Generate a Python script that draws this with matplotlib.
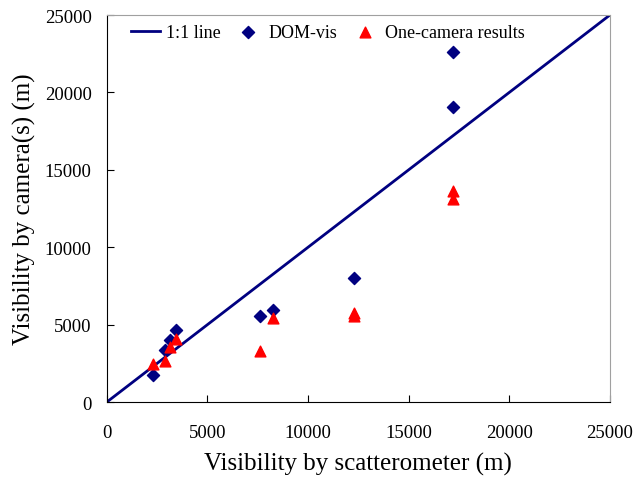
import matplotlib.pyplot as plt

# --- Data ---
line_x = [0, 25000]
line_y = [0, 25000]

dom_x = [2270, 2880, 3130, 3460, 7600, 8280, 12300, 17200, 17200]
dom_y = [1720, 3380, 4020, 4670, 5530, 5960, 8020, 22630, 19080]

cam_x = [2270, 2880, 3130, 3460, 7600, 8280, 12300, 12300, 17200, 17200]
cam_y = [2450, 2620, 3530, 4070, 3270, 5430, 5780, 5580, 13650, 13120]

x_ticks = [0, 5000, 10000, 15000, 20000, 25000]
y_ticks = [0, 5000, 10000, 15000, 20000, 25000]

plt.rcParams['font.family'] = ['Liberation Serif', 'DejaVu Serif']

fig = plt.figure(figsize=(6.36, 4.85), dpi=100)
ax = fig.add_axes([0.168, 0.169, 0.791, 0.798])

ax.plot(line_x, line_y, color='#000080', lw=2, label='1:1 line', zorder=2)
ax.scatter(dom_x, dom_y, marker='D', s=38, color='#000080', label='DOM-vis', zorder=3)
ax.scatter(cam_x, cam_y, marker='^', s=60, color='#ff0000', label='One-camera results', zorder=3)

ax.set_xlim(0, 25000)
ax.set_ylim(0, 25000)
ax.set_xticks(x_ticks)
ax.set_yticks(y_ticks)
ax.tick_params(direction='in', length=5, labelsize=13.5, colors='black')
ax.tick_params(axis='x', pad=16)
ax.tick_params(axis='y', pad=11)

for side in ['top', 'right']:
    ax.spines[side].set_color('#a0a0a0')
for side in ['left', 'bottom']:
    ax.spines[side].set_color('black')

ax.set_xlabel('Visibility by scatterometer (m)', fontsize=18, labelpad=8)
ax.set_ylabel('Visibility by camera(s) (m)', fontsize=18, labelpad=6)

ax.legend(loc='upper left', ncol=3, frameon=False, fontsize=13,
          handlelength=1.6, columnspacing=0.7, handletextpad=0.35,
          borderaxespad=0.1, bbox_to_anchor=(0.03, 1.0))

fig.savefig('out.png', dpi=100)
